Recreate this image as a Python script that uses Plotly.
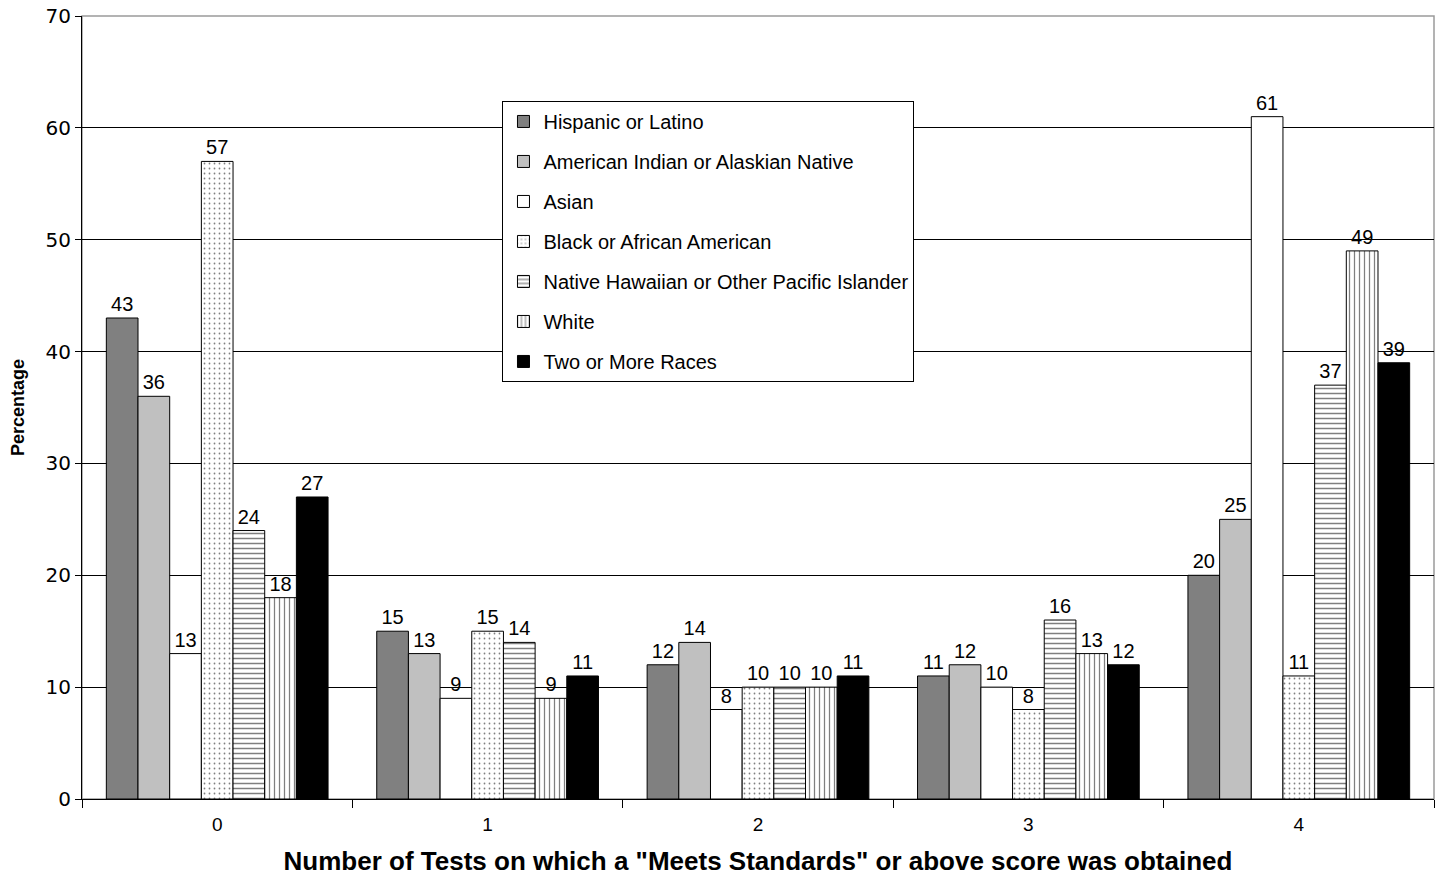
import plotly.graph_objects as go

categories = ["0", "1", "2", "3", "4"]
series_names = [
    "Hispanic or Latino",
    "American Indian or Alaskian Native",
    "Asian",
    "Black or African American",
    "Native Hawaiian or Other Pacific Islander",
    "White",
    "Two or More Races",
]
hispanic = [43, 15, 12, 11, 20]
american_indian = [36, 13, 14, 12, 25]
asian = [13, 9, 8, 10, 61]
black = [57, 15, 10, 8, 11]
hawaiian = [24, 14, 10, 16, 37]
white = [18, 9, 10, 13, 49]
two_more = [27, 11, 11, 12, 39]

values = [hispanic, american_indian, asian, black, hawaiian, white, two_more]
colors = ["#808080", "#C0C0C0", "#FFFFFF", "#FFFFFF", "#FFFFFF", "#FFFFFF", "#000000"]
patterns = ["", "", "", ".", "-", "|", ""]
pattern_size = {".": 5, "-": 5, "|": 5}
pattern_solidity = {".": 0.1, "-": 0.3, "|": 0.25}

FONT = "Arial, Liberation Sans"

fig = go.Figure()
for i, (name, vals, col, pat) in enumerate(zip(series_names, values, colors, patterns)):
    marker = dict(color=col, line=dict(color="#000000", width=1))
    if pat:
        marker["pattern"] = dict(shape=pat, fgcolor="#000000", bgcolor="#FFFFFF",
                                 size=pattern_size[pat], solidity=pattern_solidity[pat],
                                 fillmode="overlay")
    fig.add_trace(go.Bar(
        name=name, x=categories, y=vals, marker=marker,
        legendgroup="g%d" % i,
        text=[str(v) for v in vals], textposition="outside",
        textfont=dict(family=FONT, size=20, color="#000000"),
        cliponaxis=False,
    ))

# plot-area border (grey on top / right, as in the reference)
fig.add_shape(type="rect", xref="paper", yref="paper", x0=0, x1=1, y0=0, y1=1,
              line=dict(color="#9A9A9A", width=1.5), layer="below")

fig.update_layout(
    width=1442, height=876,
    margin=dict(l=82, r=8, t=16, b=77, autoexpand=False),
    paper_bgcolor="#FFFFFF", plot_bgcolor="#FFFFFF",
    barmode="group", bargap=0.18, bargroupgap=0,
    font=dict(family=FONT, color="#000000"),
    showlegend=True,
    legend=dict(
        x=0.311, y=0.8915, xanchor="left", yanchor="top",
        bgcolor="#FFFFFF", bordercolor="#000000", borderwidth=1,
        font=dict(size=20, family=FONT),
        tracegroupgap=11, itemwidth=30,
    ),
    xaxis=dict(
        title=dict(text="Number of Tests on which a \"Meets Standards\" or above score was obtained",
                   font=dict(size=26, family=FONT, weight="bold"), standoff=19),
        tickfont=dict(size=19), ticks="outside", tickson="boundaries", ticklen=8,
        ticklabelstandoff=8,
        tickcolor="#000000", showline=True, linecolor="#000000", linewidth=1,
        showgrid=False,
    ),
    yaxis=dict(
        title=dict(text="Percentage", font=dict(size=18, family=FONT, weight="bold"), standoff=16),
        range=[0, 70], dtick=10, tickfont=dict(size=20, family="DejaVu Sans"),
        ticks="outside", ticklen=6, tickcolor="#000000",
        showline=True, linecolor="#000000", linewidth=1,
        showgrid=True, gridcolor="#000000", gridwidth=1, zeroline=False,
        ticklabeloverflow="allow",
    ),
)

fig.write_html("out.html", config={"displayModeBar": False},
               post_script="document.body.style.margin='0px';")
